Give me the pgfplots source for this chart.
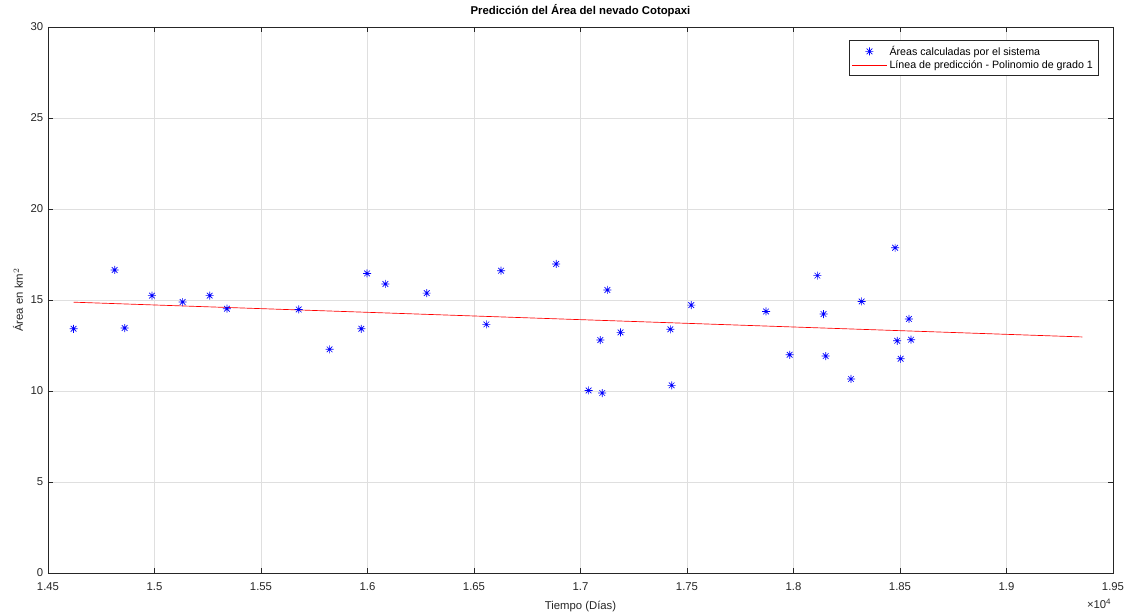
\documentclass[border=0pt]{standalone}
\usepackage{pgfplots}
\pgfplotsset{compat=1.18}
\usepackage{fontspec}
\setmainfont{Liberation Sans}
\definecolor{axgray}{RGB}{38,38,38}
\definecolor{gridgray}{RGB}{223,223,223}
\pgfdeclareplotmark{mstar}{%
  \pgfpathmoveto{\pgfqpoint{0pt}{\pgfplotmarksize}}\pgfpathlineto{\pgfqpoint{0pt}{-\pgfplotmarksize}}%
  \pgfpathmoveto{\pgfqpoint{\pgfplotmarksize}{0pt}}\pgfpathlineto{\pgfqpoint{-\pgfplotmarksize}{0pt}}%
  \pgfpathmoveto{\pgfqpoint{0.707\pgfplotmarksize}{0.707\pgfplotmarksize}}\pgfpathlineto{\pgfqpoint{-0.707\pgfplotmarksize}{-0.707\pgfplotmarksize}}%
  \pgfpathmoveto{\pgfqpoint{-0.707\pgfplotmarksize}{0.707\pgfplotmarksize}}\pgfpathlineto{\pgfqpoint{0.707\pgfplotmarksize}{-0.707\pgfplotmarksize}}%
  \pgfusepathqstroke}
\begin{document}
\begin{tikzpicture}
\useasboundingbox (-36pt,-30.75pt) rectangle (812.25pt,429.75pt);
\begin{axis}[
  at={(0,0)}, anchor=south west,
  scale only axis, width=798.75pt, height=409.5pt,
  xmin=14500, xmax=19500, ymin=0, ymax=30,
  scaled x ticks=false, scaled y ticks=false,
  xtick={14500,15000,15500,16000,16500,17000,17500,18000,18500,19000,19500},
  xticklabels={1.45,1.5,1.55,1.6,1.65,1.7,1.75,1.8,1.85,1.9,1.95},
  ytick={0,5,10,15,20,25,30},
  tick align=inside, major tick length=4pt,
  xtick pos=both, ytick pos=both,
  grid=major, major grid style={gridgray, line width=0.5pt},
  axis line style={axgray, line width=0.5pt},
  tick style={axgray, line width=0.5pt},
  ticklabel style={font=\fontsize{8.5}{10}\selectfont, text=axgray},
  /pgf/number format/assume math mode=true,
  xticklabel style={yshift=-3.8pt},
  title={\textbf{Predicción del Área del nevado Cotopaxi}},
  title style={font=\fontsize{8.5}{10}\selectfont, yshift=-2pt},
  xlabel={Tiempo (Días)}, ylabel={Área en km$^2$},
  label style={font=\fontsize{8.5}{10}\selectfont, text=axgray},
  xlabel style={yshift=-1pt},
  ylabel style={yshift=-1pt},
  legend style={at={(0.9865,0.976)}, anchor=north east, draw=axgray, line width=0.5pt,
    font=\fontsize{8}{9.5}\selectfont, row sep=-1.5pt, inner sep=2pt},
  legend cell align=left,
  legend image code/.code={\draw[mark repeat=2,mark phase=2,#1] plot coordinates {(0cm,0cm) (0.45cm,0cm) (0.9cm,0cm)};},
]
\addplot[only marks, mark=mstar, mark size=3pt, color=blue, line width=0.5pt] coordinates {
(14620,13.42) (14813,16.65) (14860,13.46) (14988,15.24) (15132,14.89)
(15259,15.24) (15340,14.52) (15677,14.48) (15822,12.29) (15971,13.42)
(15998,16.46) (16084,15.88) (16278,15.38) (16558,13.66) (16627,16.61)
(16886,16.98) (17038,10.03) (17093,12.80) (17102,9.89) (17126,15.55)
(17188,13.22) (17422,13.39) (17428,10.31) (17520,14.72) (17871,14.37)
(17982,11.99) (18112,16.34) (18141,14.23) (18151,11.92) (18270,10.66)
(18320,14.92) (18477,17.87) (18487,12.76) (18503,11.77) (18542,13.96)
(18552,12.82)
};
\addlegendentry{Áreas calculadas por el sistema}
\addplot[color=red, line width=0.5pt, no marks] coordinates {(14620,14.88) (19356,12.97)};
\addlegendentry{Línea de predicción - Polinomio de grado 1}
\end{axis}
\node[font=\fontsize{8.5}{10}\selectfont, text=axgray, anchor=north east] at (801pt,-16pt) {×10\textsuperscript{4}};
\end{tikzpicture}
\end{document}
